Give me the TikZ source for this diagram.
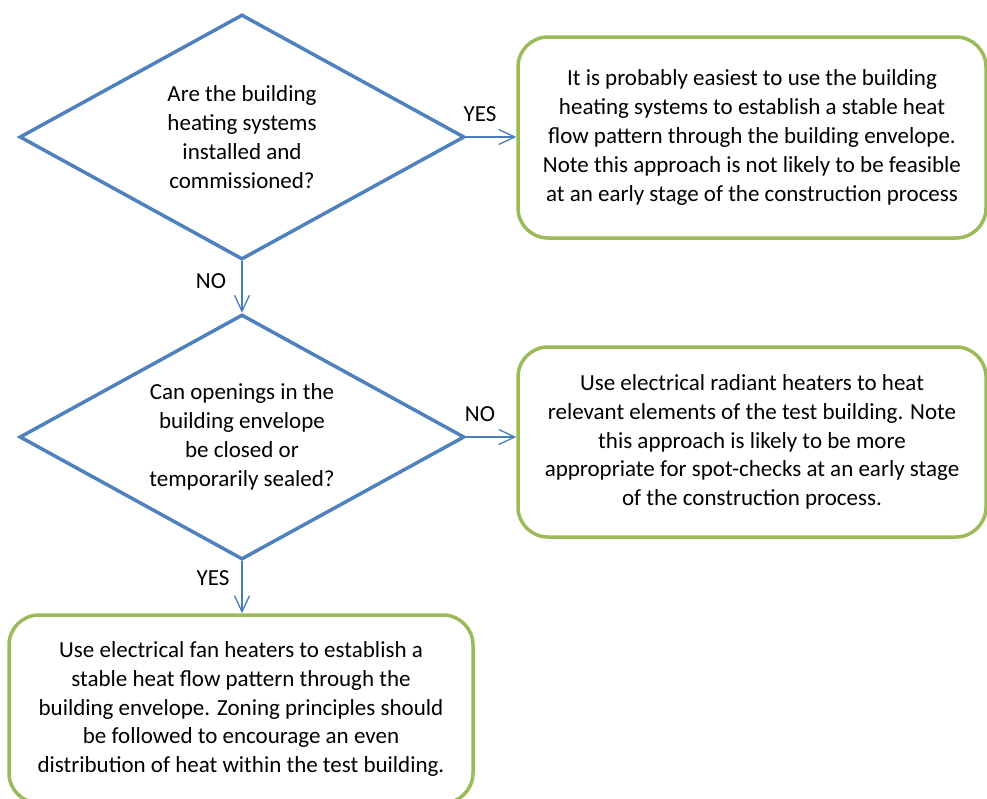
\documentclass[tikz,border=0pt]{standalone}
\usepackage{fontspec}
\setmainfont{Carlito}
\usetikzlibrary{shapes.geometric,arrows.meta}
\definecolor{dblue}{HTML}{4F81BD}
\definecolor{agreen}{HTML}{9BBB59}
\definecolor{ablue}{HTML}{4A7EBB}
\begin{document}
\begin{tikzpicture}[x=1pt,y=-1pt,
  every node/.style={font=\fontsize{23}{28.8}\selectfont},
  decision/.style={shape=diamond, draw=dblue, line width=3.5pt, inner sep=0pt,
    minimum width=445pt, minimum height=245pt},
  dtext/.style={align=center, inner sep=0pt},
  outcome/.style={draw=agreen, line width=3.5pt, rounded corners=30pt, align=center,
    inner sep=0pt},
  arr/.style={draw=ablue, line width=1.5pt, -{Straight Barb[length=16pt,width=15pt,line width=1.3pt]}},
  lbl/.style={inner sep=0pt}
]
\useasboundingbox (0,0) rectangle (987,798);
\clip (0,0) rectangle (987,798);
\node[decision] (d1) at (242,137) {};
\node[dtext] (t1) at (d1.center) {Are the building\\heating systems\\installed and\\commissioned?};
\node[decision] (d2) at (242,437) {};
\node[dtext] (t2) at (d2.center) {Can openings in the\\building envelope\\be closed or\\temporarily sealed?};
\node[outcome, minimum width=468pt, minimum height=201pt] (b1) at (752,137.5)
  {It is probably easiest to use the building\\heating systems to establish a stable heat\\flow pattern through the building envelope.\\Note this approach is not likely to be feasible\\at an early stage of the construction process};
\node[outcome, minimum width=468pt, minimum height=190pt] (b2) at (752,442)
  {Use electrical radiant heaters to heat\\relevant elements of the test building. Note\\this approach is likely to be more\\appropriate for spot-checks at an early stage\\of the construction process.};
\node[outcome, minimum width=464pt, minimum height=188pt] (b3) at (241,709)
  {Use electrical fan heaters to establish a\\stable heat flow pattern through the\\building envelope. Zoning principles should\\be followed to encourage an even\\distribution of heat within the test building.};
\draw[arr] (d1.east) -- (d1.east -| b1.west);
\draw[arr] (d1.south) -- (d2.north);
\draw[arr] (d2.east) -- (d2.east -| b2.west);
\draw[arr] (d2.south) -- (d2.south |- b3.north);
\node[lbl] (l1) at (480,114) {YES};
\node[lbl] (l2) at (211,281) {NO};
\node[lbl] (l3) at (480,414) {NO};
\node[lbl] (l4) at (213,578) {YES};
\end{tikzpicture}
\end{document}
